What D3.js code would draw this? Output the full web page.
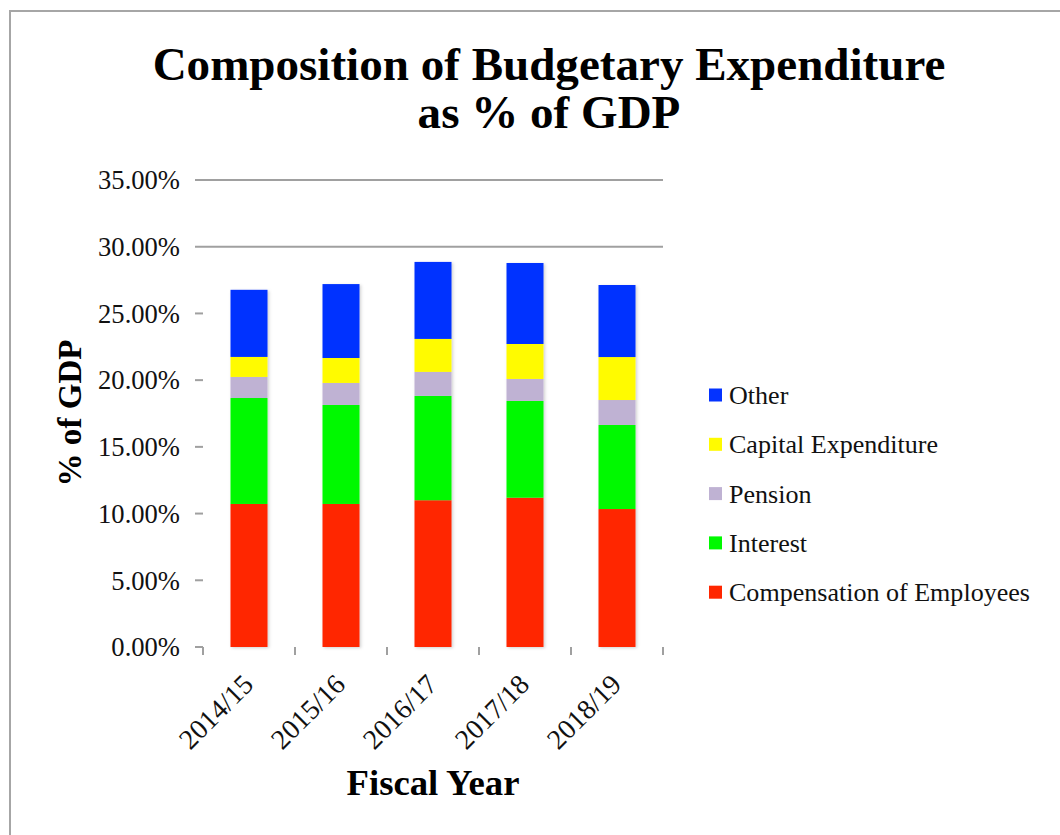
<!DOCTYPE html>
<html>
<head>
<meta charset="utf-8">
<script src="https://cdn.jsdelivr.net/npm/d3@7/dist/d3.min.js"></script>
<style>
  html, body { margin: 0; padding: 0; background: #fff; }
  svg { display: block; }
</style>
</head>
<body>
<svg id="chart" width="1060" height="835"></svg>
<script>
/* ---------- data ---------- */
const years     = ["2014/15", "2015/16", "2016/17", "2017/18", "2018/19"];
const series    = ["Compensation of Employees", "Interest", "Pension", "Capital Expenditure", "Other"];
const compEmp   = [10.72, 10.72, 11.00, 11.19, 10.34];
const interest  = [7.94, 7.42, 7.82, 7.25, 6.30];
const pension   = [1.58, 1.65, 1.80, 1.65, 1.87];
const capex     = [1.50, 1.87, 2.47, 2.62, 3.22];
const other     = [5.03, 5.54, 5.77, 6.07, 5.40];
const yTicks    = [0, 5, 10, 15, 20, 25, 30, 35];
const colors    = ["#ff2600", "#00f900", "#bfb2d3", "#fffb00", "#0433ff"];

/* ---------- setup ---------- */
const FONT = "'Liberation Serif', 'DejaVu Serif', serif";
const svg  = d3.select("#chart");

const rows = years.map((yr, i) => ({
  year: yr,
  "Compensation of Employees": compEmp[i],
  "Interest": interest[i],
  "Pension": pension[i],
  "Capital Expenditure": capex[i],
  "Other": other[i]
}));

const x = d3.scaleBand().domain(years).range([203, 663]);
const y = d3.scaleLinear().domain([0, 35]).range([647, 180]);
const color = d3.scaleOrdinal().domain(series).range(colors);
const stacked = d3.stack().keys(series)(rows);

// scale a text's font-size so its width matches the target
function fitSize(str, weight, target, base = 20) {
  const t = svg.append("text").attr("font-family", FONT).attr("font-weight", weight)
    .attr("font-size", base).text(str);
  const w = t.node().getComputedTextLength();
  t.remove();
  return base * target / w;
}

/* ---------- frame ---------- */
svg.append("rect")
  .attr("x", 10).attr("y", 11).attr("width", 1100).attr("height", 900)
  .attr("fill", "none").attr("stroke", "#a6a6a6").attr("stroke-width", 2);

/* ---------- shadow filter ---------- */
const defs = svg.append("defs");
defs.append("filter").attr("id", "shadow")
  .attr("x", "-20%").attr("y", "-5%").attr("width", "140%").attr("height", "110%")
  .append("feDropShadow")
  .attr("dx", 1.5).attr("dy", 1).attr("stdDeviation", 1.5)
  .attr("flood-color", "#000").attr("flood-opacity", 0.18);

/* ---------- title ---------- */
const titleSize = fitSize("Composition of Budgetary Expenditure", "bold", 793, 40);
svg.append("g").attr("font-family", FONT).attr("font-weight", "bold")
  .attr("font-size", titleSize).attr("text-anchor", "middle")
  .selectAll("text")
  .data(["Composition of Budgetary Expenditure", "as % of GDP"])
  .join("text")
  .attr("x", 549).attr("y", (d, i) => 80 + i * 48)
  .text(d => d);

/* ---------- y axis: ticks + gridlines above the plot area ---------- */
const plotTop = 293;
const grid = svg.append("g").attr("stroke", "#a0a0a0").attr("stroke-width", 2);
grid.selectAll("line")
  .data(yTicks)
  .join("line")
  .attr("x1", 195)
  .attr("x2", d => y(d) < plotTop ? 663 : 203)
  .attr("y1", d => y(d)).attr("y2", d => y(d));

const tickSize = fitSize("35.00%", "normal", 82, 20);
svg.append("g").attr("font-family", FONT).attr("font-size", tickSize)
  .attr("text-anchor", "end").attr("fill", "#111")
  .selectAll("text")
  .data(yTicks)
  .join("text")
  .attr("x", 180).attr("y", d => y(d)).attr("dy", "0.35em")
  .text(d => d3.format(".2f")(d) + "%");

/* ---------- x axis ticks ---------- */
const xEdges = [x.range()[0]].concat(years.map(d => x(d) + x.bandwidth()));
grid.append("g").selectAll("line")
  .data(xEdges)
  .join("line")
  .attr("x1", d => d).attr("x2", d => d)
  .attr("y1", y(0)).attr("y2", y(0) + 8);

svg.append("g").attr("font-family", FONT).attr("font-size", tickSize * 1.05)
  .attr("text-anchor", "end").attr("fill", "#111")
  .selectAll("text")
  .data(years)
  .join("text")
  .attr("transform", d => `translate(${x(d) + x.bandwidth() / 2 + 6},${y(0) + 39}) rotate(-45)`)
  .text(d => d);

/* ---------- bars ---------- */
const barW = 37;
svg.append("g").attr("filter", "url(#shadow)")
  .selectAll("g")
  .data(stacked)
  .join("g")
  .attr("fill", d => color(d.key))
  .selectAll("rect")
  .data(d => d)
  .join("rect")
  .attr("x", d => x(d.data.year) + (x.bandwidth() - barW) / 2)
  .attr("width", barW)
  .attr("y", d => y(d[1]))
  .attr("height", d => y(d[0]) - y(d[1]));

/* ---------- axis titles ---------- */
const yTitleSize = fitSize("% of GDP", "bold", 147, 24);
svg.append("text")
  .attr("font-family", FONT).attr("font-weight", "bold").attr("font-size", yTitleSize)
  .attr("text-anchor", "middle")
  .attr("transform", "translate(81,413) rotate(-90)")
  .text("% of GDP");

const xTitleSize = fitSize("Fiscal Year", "bold", 173, 24);
svg.append("text")
  .attr("font-family", FONT).attr("font-weight", "bold").attr("font-size", xTitleSize)
  .attr("text-anchor", "middle")
  .attr("x", 433).attr("y", 795)
  .text("Fiscal Year");

/* ---------- legend ---------- */
const legSize = fitSize("Compensation of Employees", "normal", 301, 20);
const legend = svg.append("g").attr("font-family", FONT).attr("font-size", legSize)
  .selectAll("g")
  .data(series.slice().reverse())
  .join("g")
  .attr("transform", (d, i) => `translate(709,${395 + i * 49.3})`);
legend.append("rect")
  .attr("y", -6.5).attr("width", 13).attr("height", 13)
  .attr("fill", d => color(d));
legend.append("text")
  .attr("x", 20).attr("dy", "0.35em").attr("fill", "#111")
  .text(d => d);
</script>
</body>
</html>
